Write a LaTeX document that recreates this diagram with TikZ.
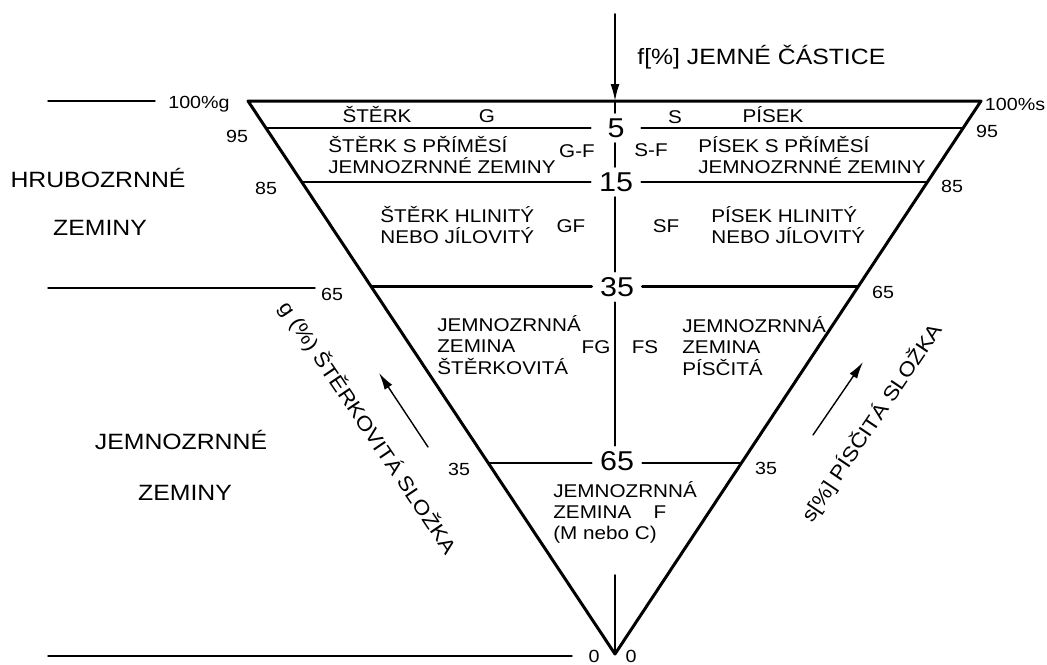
\documentclass[tikz,border=0pt]{standalone}
\usepackage{fontspec}
\setmainfont{Liberation Sans}[FakeStretch=1.12]
\usetikzlibrary{calc,arrows.meta}

\begin{document}
\begin{tikzpicture}[x=0.02cm,y=-0.02cm,line cap=round,line join=round,
  zone/.style={font=\fontsize{12.6}{15}\selectfont,inner sep=0pt},
  axis/.style={font=\fontsize{11.5}{13}\selectfont,inner sep=0pt},
  lbl/.style={font=\fontsize{10.5}{12}\selectfont,inner sep=0pt},
  blk/.style={lbl,align=left,anchor=west},
  tick/.style={font=\fontsize{10}{12}\selectfont,inner sep=0pt},
  pct/.style={font=\fontsize{15.5}{18}\selectfont,inner xsep=0pt,inner ysep=3pt,minimum width=1cm},
  rimline/.style={line width=1.7pt},
  mainline/.style={line width=1.6pt},
  divline/.style={line width=1.1pt},
  outline/.style={line width=0.8pt},
  ray/.style={line width=0.8pt,-{Latex[length=0.34cm,width=0.18cm]}}]
  \useasboundingbox (0,0) rectangle (1047,664);
  % 三角形
  \coordinate (L) at (248,101);
  \coordinate (R) at (981,101);
  \coordinate (B) at (615,654);
  \coordinate (T) at (615,101);
  \draw[rimline] (L) -- (R) -- (B) -- cycle;
  % 左侧分区线
  \draw[outline] (48,101) -- (155,101);
  \draw[outline] (48,288) -- (315,288);
  \draw[outline] (48,656) -- (572,656);
  % 细粒含量 f
  \node[pct] (n5) at (616,128) {5};
  \node[pct] (n15) at (616,182) {15};
  \node[pct] (n35) at (617,287) {35};
  \node[pct] (n65) at (617,461) {65};
  \foreach \n/\t/\w in {5/0.049/divline,15/0.147/divline,35/0.336/mainline,65/0.655/divline}{
    \coordinate (l\n) at ($(L)!\t!(B)$);
    \coordinate (r\n) at ($(R)!\t!(B)$);
    \draw[\w] (l\n) -- (l\n -| n\n.west);
    \draw[\w] (n\n.east |- r\n) -- (r\n);
  }
  \coordinate (cF) at (615,575);
  \draw[divline] (T) -- (T |- n5.north);
  \draw[divline] (T |- n5.south) -- (T |- n15.north);
  \draw[divline] (T |- n15.south) -- (T |- n35.north);
  \draw[divline] (T |- n35.south) -- (T |- n65.north);
  \draw[divline] (cF) -- (B);
  \coordinate (fTop) at (615,14);
  \draw[ray,line width=1pt] (fTop) -- (T);
  \node[zone,anchor=west] (fLab) at (637,57) {f[\%] JEMNÉ ČÁSTICE};
  % 刻度
  \node[tick] (g100) at (199,104) {100\%g};
  \node[tick] (g95) at (237,136) {95};
  \node[tick] (g85) at (266,188) {85};
  \node[tick] (g65) at (332,294) {65};
  \node[tick] (g35) at (459,469) {35};
  \node[tick] (g0) at (594,656) {0};
  \node[tick] (s0) at (631,656) {0};
  \node[tick] (s100) at (1015,104) {100\%s};
  \node[tick] (s95) at (987,131) {95};
  \node[tick] (s85) at (952,186) {85};
  \node[tick] (s65) at (883,292) {65};
  \node[tick] (s35) at (766,468) {35};
  % 左侧大类
  \node[zone] (hz1) at (98,178) {HRUBOZRNNÉ};
  \node[zone] (hz2) at (100,228) {ZEMINY};
  \node[zone] (jz1) at (181,440) {JEMNOZRNNÉ};
  \node[zone] (jz2) at (185,493) {ZEMINY};
  % 斜边标注与箭头
  \node[axis,rotate=-56] (gAx) at (368,428) {g (\%) ŠTĚRKOVITÁ SLOŽKA};
  \node[axis,rotate=56] (sAx) at (872,423) {s[\%] PÍSČITÁ SLOŽKA};
  \coordinate (gA) at (428,447);
  \coordinate (gB) at (379,373);
  \coordinate (sA) at (813,435);
  \coordinate (sB) at (863,362);
  \draw[ray] (gA) -- (gB);
  \draw[ray] (sA) -- (sB);
  % 各区
  \node[lbl] (G1) at (377,115) {ŠTĚRK};
  \node[lbl] (G) at (487,116) {G};
  \node[lbl] (S) at (675,117) {S};
  \node[lbl] (S1) at (773,115) {PÍSEK};
  \node[blk] (GFa) at (328,155) {ŠTĚRK S PŘÍMĚSÍ\\JEMNOZRNNÉ ZEMINY};
  \node[lbl] (GF1) at (577,151) {G-F};
  \node[lbl] (SF1) at (651,150) {S-F};
  \node[blk] (SFa) at (698,155) {PÍSEK S PŘÍMĚSÍ\\JEMNOZRNNÉ ZEMINY};
  \node[blk] (GFb) at (380,225) {ŠTĚRK HLINITÝ\\NEBO JÍLOVITÝ};
  \node[lbl] (GF2) at (571,226) {GF};
  \node[lbl] (SF2) at (666,226) {SF};
  \node[blk] (SFb) at (711,225) {PÍSEK HLINITÝ\\NEBO JÍLOVITÝ};
  \node[blk] (FGa) at (437,345) {JEMNOZRNNÁ\\ZEMINA\\ŠTĚRKOVITÁ};
  \node[lbl] (FG) at (596,347) {FG};
  \node[lbl] (FS) at (645,347) {FS};
  \node[blk] (FSa) at (682,346) {JEMNOZRNNÁ\\ZEMINA\\PÍSČITÁ};
  \node[blk] (Fa) at (553,512) {JEMNOZRNNÁ\\ZEMINA\\(M nebo C)};
  \node[lbl] (F) at (660,512) {F};
\end{tikzpicture}
\end{document}
